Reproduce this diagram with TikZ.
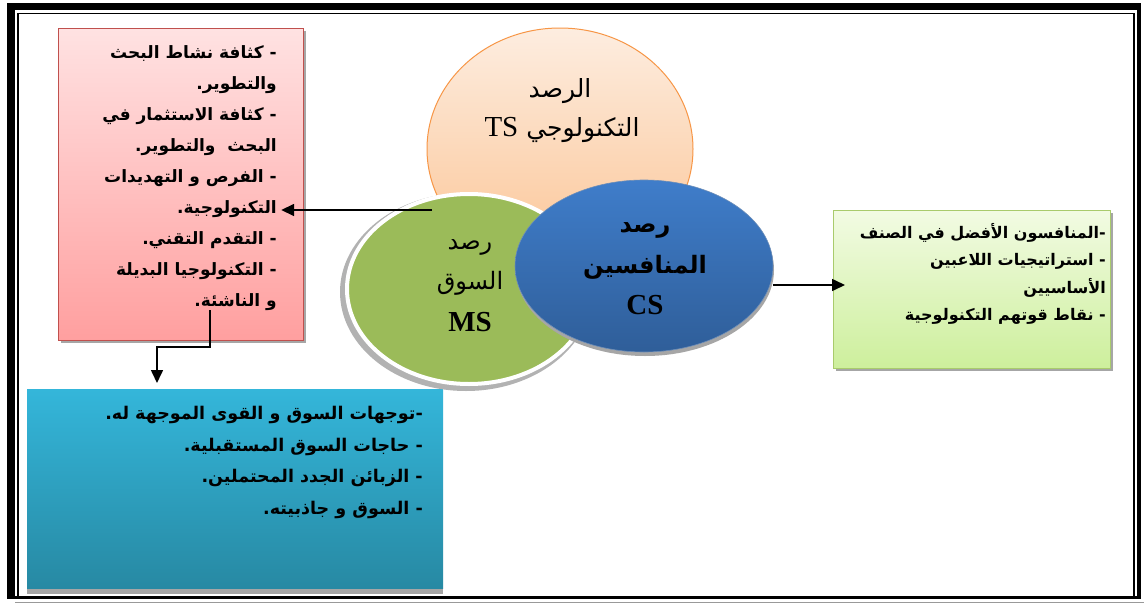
\documentclass[tikz,border=0pt]{standalone}
\usepackage{fontspec}
\setmainfont{Liberation Serif}
\newfontfamily\arabicfont[Script=Arabic]{DejaVu Sans}
\TeXXeTstate=1
\usetikzlibrary{arrows.meta,shapes.geometric}
\definecolor{pinkT}{HTML}{FFE2E2}
\definecolor{pinkB}{HTML}{FF9F9F}
\definecolor{pinkD}{HTML}{C0504D}
\definecolor{peachT}{HTML}{FDEDE0}
\definecolor{peachB}{HTML}{FBC494}
\definecolor{orangeD}{HTML}{F79646}
\definecolor{msgreen}{HTML}{9BBB59}
\definecolor{csT}{HTML}{3F7DCA}
\definecolor{csB}{HTML}{2F5E99}
\definecolor{lgT}{HTML}{F2FBE3}
\definecolor{lgB}{HTML}{CDEF9C}
\definecolor{lgD}{HTML}{A9CB6C}
\definecolor{cyT}{HTML}{34B6DA}
\definecolor{cyB}{HTML}{2789A3}
\newcommand{\arl}[1]{\beginR #1\endR}
\begin{document}
\begin{tikzpicture}[x=1pt,y=-1pt,
  boxtxt/.style={font=\arabicfont\bfseries\fontsize{17}{31}\selectfont, align=right, inner sep=0pt, text=black},
  arr/.style={-{Triangle[length=13pt,width=12pt]}, line width=1.6pt},
  shad/.style={fill=black!35}]
\useasboundingbox (0,0) rectangle (1144,605);
\fill[white] (0,0) rectangle (1144,605);
% page border
\fill[black] (7,3) rectangle (1141,10);
\fill[black] (7,3) rectangle (15,599);
\fill[black] (1137,3) rectangle (1141,599);
\fill[black] (7,596) rectangle (1141,599);
\draw[line width=1.6pt] (18,597) -- (18,13.5) -- (1134,13.5) -- (1134,597);
\draw[line width=1pt, black!40] (15,602) -- (1144,602);

% pink box
\fill[shad] (61,31) rectangle (306,343);
\node[draw=pinkD, line width=1.2pt, top color=pinkT, bottom color=pinkB,
      minimum width=245pt, minimum height=312pt, anchor=north west, inner sep=0pt] (tb) at (58,28) {};
\node[boxtxt, anchor=north east] (tbt) at (277,45) {%
\arl{- كثافة نشاط البحث}\\
\arl{والتطوير.}\\
\arl{- كثافة الاستثمار في}\\
\arl{البحث\ \ والتطوير.}\\
\arl{- الفرص و التهديدات}\\
\arl{التكنولوجية.}\\
\arl{- التقدم التقني.}\\
\arl{- التكنولوجيا البديلة}\\
\arl{و الناشئة.}};

% blue box
\fill[black!35] (27,588) rectangle (443,594);
\node[top color=cyT, bottom color=cyB, minimum width=416pt, minimum height=199pt,
      anchor=north west, inner sep=0pt] (cy) at (27,389) {};
\node[boxtxt, anchor=north east, font=\arabicfont\bfseries\fontsize{17.5}{31.5}\selectfont] (cyt) at (423,406) {%
\arl{-توجهات السوق و القوى الموجهة له.}\\
\arl{- حاجات السوق المستقبلية.}\\
\arl{- الزبائن الجدد المحتملين.}\\
\arl{- السوق و جاذبيته.}};

% green box
\fill[shad] (836,213) rectangle (1113,371);
\node[draw=lgD, line width=1pt, top color=lgT, bottom color=lgB, minimum width=277pt, minimum height=158pt,
      anchor=north west, inner sep=0pt] (gb) at (833,210) {};
\node[boxtxt, anchor=north east, font=\arabicfont\bfseries\fontsize{16}{27.5}\selectfont] (gbt) at (1106,223) {%
\arl{-المنافسون الأفضل في الصنف}\\
\arl{- استراتيجيات اللاعبين}\\
\arl{الأساسيين}\hspace*{34pt}\\
\arl{- نقاط قوتهم التكنولوجية}};

% TS circle
\node[ellipse, minimum width=266pt, minimum height=242pt, draw=orangeD, line width=1pt,
      top color=peachT, bottom color=peachB] (ts) at (560,149) {};
\node[font=\arabicfont\fontsize{25}{28}\selectfont] (ts1) at (560,91) {\arl{الرصد}};
\node[font=\arabicfont\fontsize{25}{28}\selectfont] (ts2) at (562,130) {{\rmfamily\fontsize{29}{30}\selectfont TS}\ \arl{التكنولوجي}};

% MS ellipse
\fill[black!30] (466,292) ellipse [x radius=126, y radius=99];
\node[ellipse, minimum width=244pt, minimum height=190pt, fill=msgreen, draw=white, line width=4pt] (ms) at (469,289) {};
\node[font=\arabicfont\fontsize{24}{28}\selectfont] (ms1) at (470,247) {\arl{رصد}};
\node[font=\arabicfont\fontsize{24}{28}\selectfont] (ms2) at (470,283) {\arl{السوق}};
\node[font=\rmfamily\bfseries\fontsize{29}{30}\selectfont] (ms3) at (470,322) {MS};

% CS ellipse
\fill[black!35] (645,270) ellipse [x radius=129, y radius=86];
\node[ellipse, minimum width=258pt, minimum height=172pt, top color=csT, bottom color=csB,
      draw=csB!70!white, line width=0.6pt] (cs) at (644,266) {};
\node[font=\arabicfont\bfseries\fontsize{24}{28}\selectfont] (cs1) at (645,230) {\arl{رصد}};
\node[font=\arabicfont\bfseries\fontsize{24}{28}\selectfont] (cs2) at (645,267) {\arl{المنافسين}};
\node[font=\rmfamily\bfseries\fontsize{29}{30}\selectfont] (cs3) at (645,305) {CS};

% connectors
\coordinate (tsout) at (432,210);
\draw[arr] (tsout) -- ([xshift=-23pt]tsout -| tb.east);
\coordinate (tbout) at (210,310);
\path (cy.north west) ++(130,0) coordinate (cyin);
\draw[arr, shorten >=6pt] (tbout) -- ++(0,37) -| (cyin);
\coordinate (csout) at ([yshift=-19pt]cs.east);
\draw[arr] (csout) -- ([xshift=12pt]csout -| gb.west);
\end{tikzpicture}
\end{document}
